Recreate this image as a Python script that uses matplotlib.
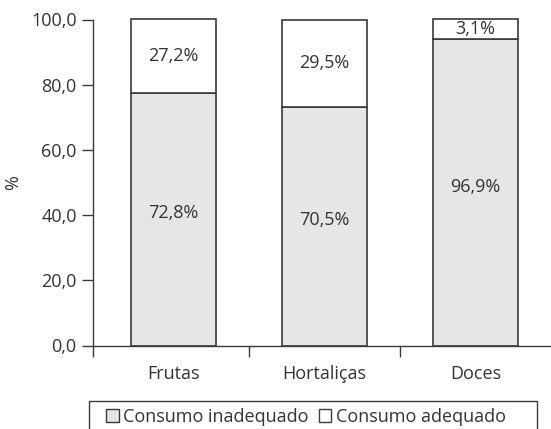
import numpy as np
import matplotlib.pyplot as plt
from matplotlib.patches import Patch, Rectangle

plt.rcParams['font.family'] = ['Open Sans', 'DejaVu Sans']
plt.rcParams.update({'font.size': 13})

# data
categories = ["Frutas", "Hortaliças", "Doces"]
inadequado = [77.6, 73.3, 93.9]          # drawn height of grey part
adequado = [100 - v for v in inadequado]  # white part on top
lbl_inadequado = ["72,8%", "70,5%", "96,9%"]
lbl_adequado = ["27,2%", "29,5%", "3,1%"]
yticks = [0, 20, 40, 60, 80, 100]

grey = "#e5e6e8"
edge = "#3a3a3a"
txt = "#333333"

fig = plt.figure(figsize=(5.51, 4.29), dpi=100)
ax = fig.add_axes([93.3/551, 1 - 345.5/429, 1 - 93.3/551, (345.5 - 19.5)/429])

x = np.arange(len(categories))
w = 0.567
ax.bar(x, inadequado, w, color=grey, edgecolor=edge, linewidth=1.2, zorder=2, clip_on=False)
ax.bar(x, adequado, w, bottom=inadequado, color="white", edgecolor=edge, linewidth=1.2,
       zorder=2, clip_on=False)

for i in range(len(categories)):
    ax.text(x[i], inadequado[i] / 2 + 1.8, lbl_inadequado[i], ha="center", va="center", color=txt)
    ax.text(x[i], inadequado[i] + adequado[i] / 2, lbl_adequado[i], ha="center", va="center", color=txt)

ax.set_xlim(-0.53, 2.5)
ax.set_ylim(0, 100)
ax.set_yticks(yticks)
ax.set_yticklabels([f"{v:.1f}".replace(".", ",") for v in yticks])
ax.set_xticks(x)
ax.set_xticklabels(categories)
ax.tick_params(axis="x", which="major", length=0, pad=14)
ax.set_xticks([-0.53, 0.5, 1.5], minor=True)
ax.tick_params(axis="x", which="minor", length=8, width=1, color=edge)
ax.tick_params(axis="y", length=8, width=1, color=edge, pad=4)
for lab in ax.get_xticklabels() + ax.get_yticklabels():
    lab.set_color(txt)

for s in ["top", "right"]:
    ax.spines[s].set_visible(False)
for s in ["left", "bottom"]:
    ax.spines[s].set_color(edge)
    ax.spines[s].set_linewidth(1.0)

ax.set_ylabel("%", color=txt)
ax.yaxis.set_label_coords((22 - 93.3) / 457.7, (345.5 - 183) / 326)

# legend: no own frame, box drawn separately (its bottom runs off the figure)
handles = [Patch(facecolor=grey, edgecolor=edge, linewidth=1),
           Patch(facecolor="white", edgecolor=edge, linewidth=1)]
fig.legend(handles, ["Consumo inadequado", "Consumo adequado"],
           loc="center left", bbox_to_anchor=(106/551, 1 - 417/429), borderaxespad=0,
           ncol=2, frameon=False, borderpad=0,
           handlelength=0.7, handleheight=0.7, handletextpad=0.25,
           columnspacing=0.55, labelcolor=txt)
fig.patches.append(Rectangle((89/551, -0.05), (537 - 89)/551, 0.05 + 28/429,
                             transform=fig.transFigure, fill=False,
                             edgecolor=edge, linewidth=1.0))

plt.savefig("out.png", dpi=100)
